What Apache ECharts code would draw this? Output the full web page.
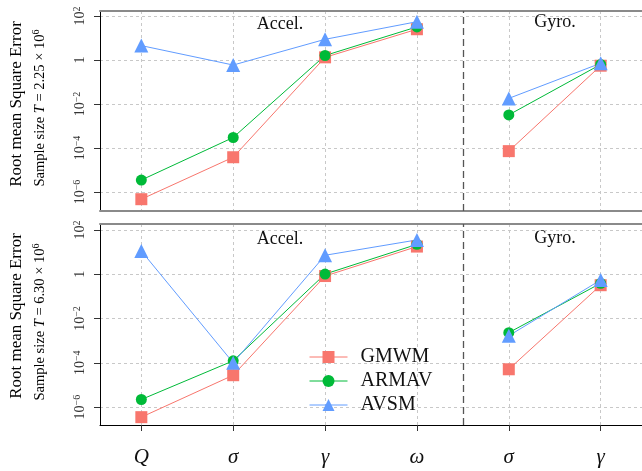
<!DOCTYPE html>
<html>
<head>
<meta charset="utf-8">
<script src="https://cdn.jsdelivr.net/npm/echarts@6/dist/echarts.min.js"></script>
<style>
  html, body { margin: 0; padding: 0; background: #fff; }
  #chart { width: 642px; height: 471px; }
</style>
</head>
<body>
<div id="chart"></div>
<script>
// categories (x positions 1..6), accel: Q sigma gamma omega, gyro: sigma gamma
const categories = ["Q", "σ", "γ", "ω", "σ", "γ"];
const catPos = [1, 2, 3, 4, 5, 6];
const yTicks = [-6, -4, -2, 0, 2]; // log10 of 1e-6 .. 1e2

// sample size T = 2.25e6
const gmwmTop = [4.7e-7, 3.8e-5, 1.32, 25, 7.2e-5, 0.55];
const armavTop = [3.5e-6, 3.0e-4, 1.6, 32, 3.2e-3, 0.63];
const avsmTop = [4.5, 0.59, 8.7, 55, 0.018, 0.71];

// sample size T = 6.30e6
const gmwmBot = [3.5e-7, 2.75e-5, 0.83, 17.8, 5.1e-5, 0.32];
const armavBot = [2.2e-6, 1.23e-4, 1.02, 22.4, 2.3e-3, 0.39];
const avsmBot = [11.2, 1.0e-4, 7.2, 35.5, 1.66e-3, 0.55];

const FONT = '"Liberation Serif", "DejaVu Serif", serif';
const COLORS = { GMWM: "#F8766D", ARMAV: "#00BA38", AVSM: "#619CFF" };
const SYMBOLS = { GMWM: ["rect", 12], ARMAV: ["circle", 11], AVSM: ["triangle", 14] };

const chart = echarts.init(document.getElementById("chart"));

// accel and gyro groups are not joined: put an empty point between them
const toPoints = (vals) => {
  const pts = catPos.map((x, i) => [x, Math.log10(vals[i])]);
  return pts.slice(0, 4).concat([[4.5, "-"]], pts.slice(4));
};

const gridLine = { show: true, lineStyle: { color: "#c8c8c8", type: [3, 3], width: 1 } };

function makeSeries(name, vals, idx, withSep) {
  const s = {
    name: name,
    type: "line",
    xAxisIndex: idx * 2,
    yAxisIndex: idx,
    data: toPoints(vals),
    connectNulls: false,
    symbol: SYMBOLS[name][0],
    symbolSize: SYMBOLS[name][1],
    color: COLORS[name],
    lineStyle: { width: 1, color: COLORS[name] },
    itemStyle: { color: COLORS[name] },
    animation: false,
  };
  if (withSep) {
    s.markLine = {
      silent: true,
      symbol: "none",
      label: { show: false },
      lineStyle: { color: "#555", type: [7, 4], width: 1.3 },
      data: [{ xAxis: 4.5 }],
    };
  }
  return s;
}

function yAxis(idx, min, max) {
  return {
    type: "value",
    gridIndex: idx,
    min: min,
    max: max,
    axisLine: { show: true, lineStyle: { color: "#000", width: 1 } },
    axisTick: { show: true, length: 6, customValues: yTicks, lineStyle: { color: "#333" } },
    axisLabel: {
      customValues: yTicks,
      rotate: 90,
      margin: 12,
      fontFamily: FONT,
      fontSize: 14,
      color: "#333",
      formatter: (v) => (v === 0 ? "{b|1}" : "{b|10}{s|" + (v < 0 ? "−" + -v : v) + "}"),
      rich: {
        b: { fontFamily: FONT, fontSize: 14, color: "#333", lineHeight: 16 },
        s: { fontFamily: FONT, fontSize: 10, color: "#333", verticalAlign: "top", lineHeight: 16, padding: [0, 0, 5, 0] },
      },
    },
    splitLine: gridLine,
  };
}

function xAxisBottom(idx, showLabels) {
  return {
    type: "value",
    gridIndex: idx,
    min: 0.55,
    max: 6.45,
    axisLine: { show: true, onZero: false, lineStyle: { color: showLabels ? "#000" : "#8a8a8a", width: showLabels ? 1 : 2 } },
    axisTick: { show: showLabels, length: 6, customValues: catPos, lineStyle: { color: "#333" } },
    axisLabel: {
      show: showLabels,
      customValues: catPos,
      margin: 22,
      fontFamily: FONT,
      fontStyle: "italic",
      fontSize: 21,
      color: "#111",
      formatter: (v) => categories[Math.round(v) - 1] || "",
    },
    splitLine: gridLine,
  };
}

function xAxisTop(idx) {
  return {
    type: "value",
    gridIndex: idx,
    position: "top",
    min: 0.55,
    max: 6.45,
    axisLine: { show: true, onZero: false, lineStyle: { color: "#8a8a8a", width: 2 } },
    axisTick: { show: false },
    axisLabel: { show: false },
    splitLine: { show: false },
  };
}

function rotText(x, y, text, size, rich) {
  return {
    type: "text",
    x: x,
    y: y,
    rotation: Math.PI / 2,
    style: {
      text: text,
      fontFamily: FONT,
      fontSize: size,
      fill: "#000",
      align: "center",
      verticalAlign: "middle",
      rich: rich,
    },
  };
}

function plainText(x, y, text) {
  return {
    type: "text",
    x: x,
    y: y,
    style: { text: text, fontFamily: FONT, fontSize: 18, fill: "#111", align: "center", verticalAlign: "middle" },
  };
}

const nameRich = {
  r: { fontFamily: FONT, fontSize: 14.5, fill: "#000", lineHeight: 18 },
  i: { fontFamily: FONT, fontSize: 14.5, fontStyle: "italic", fill: "#000", lineHeight: 18 },
  s: { fontFamily: FONT, fontSize: 10, fill: "#000", verticalAlign: "top", lineHeight: 18, padding: [0, 0, 6, 0] },
};

const option = {
  animation: false,
  backgroundColor: "#fff",
  grid: [
    { left: 100, right: 0, top: 11, height: 200 },
    { left: 100, right: 0, top: 224, height: 201 },
  ],
  xAxis: [xAxisBottom(0, false), xAxisTop(0), xAxisBottom(1, true), xAxisTop(1)],
  yAxis: [yAxis(0, -6.864, 2.227), yAxis(1, -6.81, 2.27)],
  legend: {
    orient: "vertical",
    left: 304,
    top: 342,
    itemWidth: 38,
    itemHeight: 15,
    itemGap: 4,
    data: ["GMWM", "ARMAV", "AVSM"],
    lineStyle: { width: 1 },
    textStyle: { fontFamily: FONT, fontSize: 20, color: "#111", padding: [0, 0, 0, 8] },
  },
  graphic: [
    rotText(17, 104, "Root mean Square Error", 17),
    rotText(40, 108, "{r|Sample size }{i|T}{r| = 2.25 × 10}{s|6}", 14.5, nameRich),
    rotText(17, 316, "Root mean Square Error", 17),
    rotText(40, 322, "{r|Sample size }{i|T}{r| = 6.30 × 10}{s|6}", 14.5, nameRich),
    plainText(280, 24, "Accel."),
    plainText(555, 22, "Gyro."),
    plainText(280, 239, "Accel."),
    plainText(555, 238, "Gyro."),
  ],
  series: [
    makeSeries("GMWM", gmwmTop, 0, true),
    makeSeries("ARMAV", armavTop, 0, false),
    makeSeries("AVSM", avsmTop, 0, false),
    makeSeries("GMWM", gmwmBot, 1, true),
    makeSeries("ARMAV", armavBot, 1, false),
    makeSeries("AVSM", avsmBot, 1, false),
  ],
};

chart.setOption(option);
</script>
</body>
</html>
